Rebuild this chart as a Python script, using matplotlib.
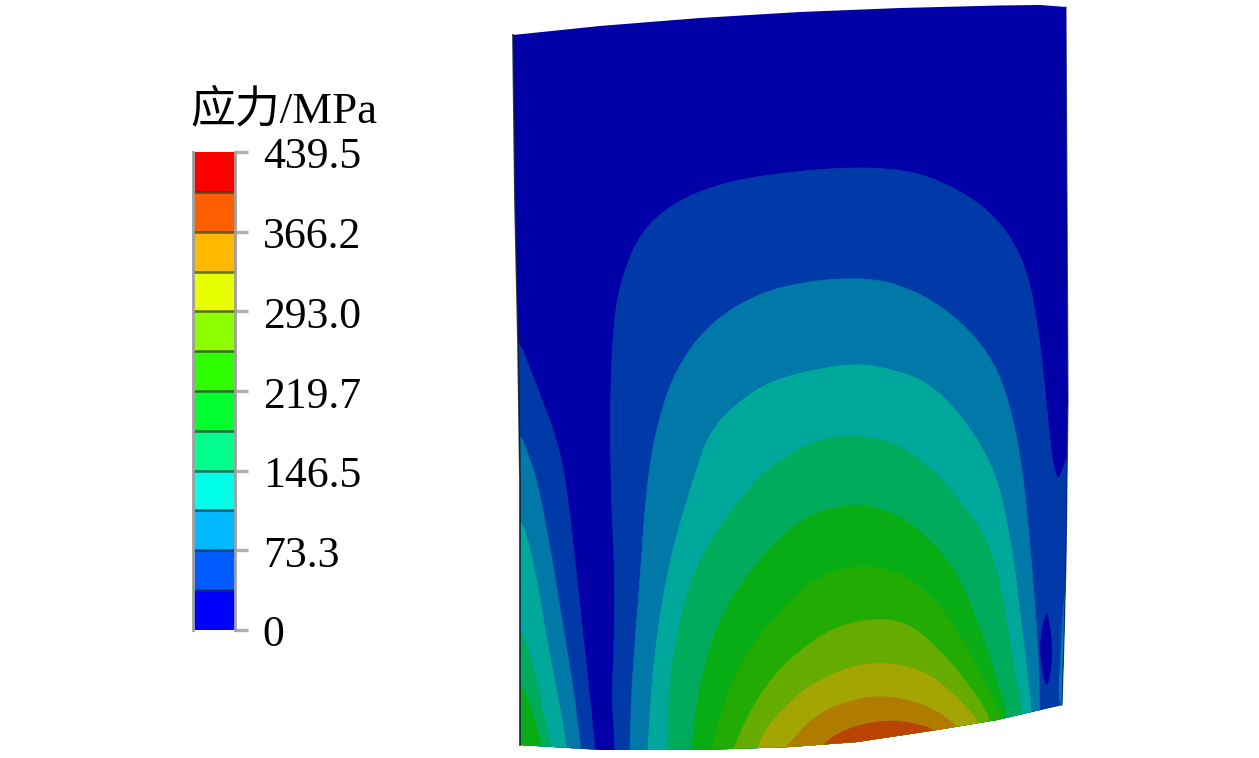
import matplotlib
matplotlib.use('Agg')
import matplotlib.pyplot as plt
import numpy as np
from matplotlib.patches import Polygon
from matplotlib.transforms import ScaledTranslation

# legend
cell_edges = [0, 36.6, 73.3, 109.9, 146.5, 183.1, 219.7, 256.4, 293.0, 329.6, 366.2, 402.9, 439.5]
cell_colors = ['#0000ff', '#005cff', '#00b9ff', '#00ffe8', '#00ff8c', '#00ff2e',
               '#2eff00', '#8cff00', '#e8ff00', '#ffb900', '#ff5f00', '#ff0000']
tick_values = [0, 73.3, 146.5, 219.7, 293.0, 366.2, 439.5]
tick_labels = ['0', '73.3', '146.5', '219.7', '293.0', '366.2', '439.5']
legend_title = '应力/MPa'

# blade outline (pixels)
outline = [(513, 35), (600, 26), (700, 18), (800, 12), (900, 8), (1000, 5.5), (1040, 5), (1066, 7),
           (1067, 200), (1068, 400), (1067, 480), (1066, 560), (1064, 640), (1062, 705),
           (997, 720), (937, 730), (857, 742), (790, 747), (700, 750), (600, 750), (520, 745),
           (520, 480), (518, 340), (515, 200)]

# contour bands, low to high
band_colors = ['#0000a6', '#003aa8', '#0078a8', '#00a89c', '#00ab5c', '#08ac14',
               '#22ab02', '#66ab00', '#a3a600', '#b07c00', '#b84400']

top_1 = [(615, 760), (615, 749), (612, 697), (614, 647), (615, 580), (611, 490), (610, 400), (614, 317),
         (622, 277), (640, 233), (673, 203), (721, 183), (780, 173), (850, 167), (906, 170), (943, 182),
         (980, 203), (1009, 233), (1028, 273), (1039, 333), (1046, 400), (1050, 440), (1053, 465), (1058, 481),
         (1062, 470), (1070, 450), (1080, 450), (1080, 760)]
top_2 = [(630, 760), (630, 749), (632, 680), (640, 580), (647, 480), (659, 417), (677, 367), (710, 323),
         (758, 293), (814, 280), (869, 278), (906, 287), (943, 307), (976, 337), (998, 370), (1013, 417),
         (1024, 480), (1033, 580), (1038, 647), (1040, 715), (1040, 760)]
top_3 = [(648, 760), (648, 747), (652, 680), (660, 613), (673, 547), (693, 480), (710, 430), (744, 397),
         (780, 377), (850, 363), (887, 368), (924, 380), (954, 407), (980, 443), (998, 480), (1012, 547),
         (1020, 613), (1028, 680), (1032, 715), (1032, 760)]
top_4 = [(667, 760), (667, 747), (670, 667), (690, 580), (717, 530), (755, 480), (780, 460), (817, 440),
         (850, 435), (887, 440), (917, 457), (943, 480), (983, 530), (1000, 580), (1013, 663),
         (1023, 715), (1023, 760)]
top_5 = [(692, 760), (692, 747), (697, 697), (717, 623), (750, 570), (790, 527), (823, 510), (862, 503),
         (903, 517), (933, 543), (957, 573), (977, 620), (997, 680), (1007, 715), (1007, 760)]
top_6 = [(712, 760), (712, 747), (727, 693), (750, 647), (790, 600), (823, 573), (863, 565), (900, 572),
         (933, 597), (963, 640), (987, 687), (1003, 720), (1003, 760)]
top_7 = [(733, 760), (733, 747), (760, 693), (790, 658), (833, 627), (877, 618), (907, 623), (933, 643),
         (963, 677), (993, 720), (993, 760)]
top_8 = [(757, 760), (757, 747), (770, 723), (790, 703), (807, 687), (847, 667), (883, 662), (923, 670),
         (953, 693), (982, 725), (982, 760)]
top_9 = [(785, 760), (785, 748), (790, 743), (810, 720), (840, 703), (880, 695), (917, 702), (940, 713),
         (962, 730), (962, 760)]
top_10 = [(820, 760), (823, 743), (850, 727), (887, 720), (913, 723), (937, 730), (945, 760)]
nested = [top_1, top_2, top_3, top_4, top_5, top_6, top_7, top_8, top_9, top_10]

# root of the blade, left side has its own nest of bands
left_1 = [(500, 337), (518, 337), (533, 377), (555, 433), (566, 480), (577, 580), (588, 680), (595, 749), (595, 760), (500, 760)]
left_2 = [(500, 432), (520, 432), (530, 460), (537, 480), (550, 547), (562, 620), (573, 687), (581, 749), (581, 760), (500, 760)]
left_3 = [(500, 515), (522, 515), (537, 580), (548, 647), (558, 697), (567, 749), (567, 760), (500, 760)]
left_4 = [(500, 625), (523, 630), (537, 680), (543, 713), (552, 749), (552, 760), (500, 760)]
left_5 = [(500, 675), (520, 680), (533, 713), (542, 749), (542, 760), (500, 760)]
left_nest = [left_1, left_2, left_3, left_4, left_5]

low_spot = [(1047, 613), (1050, 628), (1052, 647), (1051, 668), (1047, 688), (1043, 675), (1040, 650), (1042, 628)]
edge_sliver = [(1069, 555), (1064, 600), (1061, 650), (1058, 712), (1075, 712), (1075, 555)]


def smooth(pts, passes=2):
    # corner cutting, keeps the two ends in place
    pts = np.array(pts, dtype=float)
    for _ in range(passes):
        q = 0.75 * pts[:-1] + 0.25 * pts[1:]
        r = 0.25 * pts[:-1] + 0.75 * pts[1:]
        mid = np.empty((2 * len(q), 2))
        mid[0::2] = q
        mid[1::2] = r
        pts = np.vstack([pts[0], mid, pts[-1]])
    return pts


plt.rcParams['font.family'] = ['Liberation Serif', 'Noto Sans CJK SC']

fig = plt.figure(figsize=(12.59, 7.58), dpi=100)
ax = fig.add_axes([0, 0, 1, 1])
ax.set_xlim(0, 1259)
ax.set_ylim(758, 0)
ax.axis('off')

blade = Polygon(outline, closed=True, facecolor=band_colors[0], edgecolor='none')
ax.add_patch(blade)


def fill_band(pts, color, z=2):
    xy = smooth(pts)
    patches = ax.fill(xy[:, 0], xy[:, 1], color=color, linewidth=0.5, zorder=z)
    patches[0].set_clip_path(blade)


for i, pts in enumerate(left_nest):
    fill_band(pts, band_colors[i + 1])
for i, pts in enumerate(nested):
    fill_band(pts, band_colors[i + 1], z=3)
fill_band(low_spot + low_spot[:1], band_colors[0], z=4)
fill_band(edge_sliver, band_colors[2], z=4)

# dark jagged rim on the mesh edge
rim_left = outline[-4:] + outline[:1]
rim_right = outline[7:14]
ax.plot([p[0] for p in rim_left], [p[1] for p in rim_left], color='#0c1a3a', lw=1.3, alpha=0.85, zorder=5)
ax.plot([p[0] for p in rim_right], [p[1] for p in rim_right], color='#0a1a70', lw=0.9, alpha=0.7, zorder=5)

# legend bar on its own stress axis
cax = fig.add_axes([193 / 1259, 1 - 630 / 758, 42 / 1259, 478 / 758])
bottoms = np.array(cell_edges[:-1])
heights = np.diff(cell_edges)
cax.bar(0, heights, bottom=bottoms, width=1, color=cell_colors, linewidth=0)
for v in cell_edges[1:-1]:
    cax.axhline(v, color='#303030', lw=1.8, alpha=0.7)
cax.set_xlim(-0.5, 0.5)
cax.set_ylim(0, 439.5)
cax.set_xticks([])
cax.yaxis.tick_right()
cax.set_yticks(tick_values)
cax.set_yticklabels(tick_labels, fontsize=31.5, color='black')
cax.tick_params(axis='y', length=9.5, width=2.4, color='#b0b0b0', pad=10.5)
for lbl in cax.get_yticklabels():
    lbl.set_transform(lbl.get_transform() + ScaledTranslation(0, -0.7 / 72, fig.dpi_scale_trans))
for name, sp in cax.spines.items():
    if name in ('top', 'bottom'):
        sp.set_visible(False)
    else:
        sp.set_color('#a0a0a0')
        sp.set_linewidth(2.0)

ax.text(190, 122, legend_title, fontsize=32.3, ha='left', va='baseline', color='black')

fig.savefig('out.png', dpi=100)
plt.close(fig)
